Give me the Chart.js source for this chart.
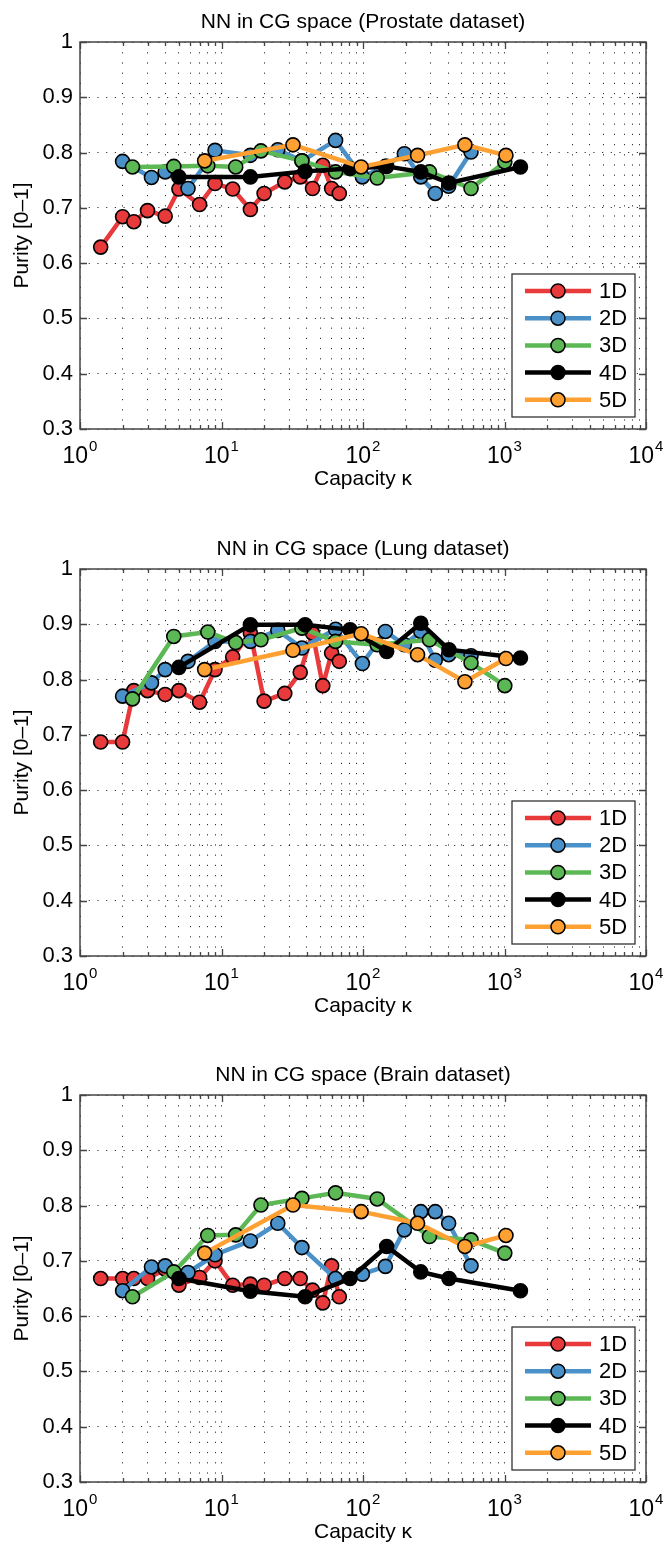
<!DOCTYPE html>
<html><head><meta charset="utf-8">
<script src="https://cdn.jsdelivr.net/npm/chart.js@4.4.1/dist/chart.umd.min.js"></script>
<style>
html,body{margin:0;padding:0;background:#fff;}
body{width:663px;height:1547px;position:relative;overflow:hidden;}
canvas{position:absolute;left:0;}
</style></head><body>
<canvas id="c1" width="663" height="494" style="top:0px;width:663px;height:494px"></canvas>
<canvas id="c2" width="663" height="494" style="top:527px;width:663px;height:494px"></canvas>
<canvas id="c3" width="663" height="494" style="top:1053px;width:663px;height:494px"></canvas>
<script>
// ---- data ----
const seriesLabels = ['1D', '2D', '3D', '4D', '5D'];
const seriesColors = ['#e8393b', '#4a90c9', '#5bb854', '#000000', '#ffa033'];
const panelTitles = ['NN in CG space (Prostate dataset)', 'NN in CG space (Lung dataset)', 'NN in CG space (Brain dataset)'];

const capacity1D = [1.4, 2, 2.4, 3, 4, 5, 7, 9, 12, 16, 20, 28, 36, 44, 52, 60, 68];
const capacity2D = [2, 3.2, 4, 5.8, 9, 16, 25, 37, 64, 99, 144, 196, 256, 324, 403, 580];
const capacity3D = [2.35, 4.6, 8, 12.6, 19, 37, 64, 126, 295, 580, 1005];
const capacity4D = [5, 16, 39, 81, 147, 256, 405, 1296];
const capacity5D = [7.6, 32, 97, 243, 525, 1024];

const prostate1D = [0.629, 0.684, 0.675, 0.695, 0.685, 0.734, 0.706, 0.744, 0.734, 0.697, 0.726, 0.747, 0.756, 0.735, 0.777, 0.735, 0.726];
const prostate2D = [0.784, 0.755, 0.765, 0.735, 0.804, 0.795, 0.805, 0.785, 0.822, 0.756, 0.775, 0.798, 0.756, 0.726, 0.739, 0.801];
const prostate3D = [0.774, 0.775, 0.776, 0.774, 0.803, 0.785, 0.765, 0.754, 0.765, 0.735, 0.783];
const prostate4D = [0.756, 0.756, 0.766, 0.771, 0.775, 0.765, 0.745, 0.774];
const prostate5D = [0.785, 0.814, 0.774, 0.795, 0.814, 0.795];

const lung1D = [0.687, 0.687, 0.780, 0.780, 0.773, 0.780, 0.759, 0.818, 0.841, 0.884, 0.761, 0.775, 0.813, 0.884, 0.789, 0.848, 0.833];
const lung2D = [0.770, 0.794, 0.818, 0.833, 0.869, 0.869, 0.889, 0.857, 0.891, 0.829, 0.887, 0.863, 0.887, 0.835, 0.845, 0.843];
const lung3D = [0.765, 0.878, 0.886, 0.867, 0.872, 0.893, 0.869, 0.863, 0.872, 0.830, 0.789];
const lung4D = [0.822, 0.899, 0.899, 0.890, 0.851, 0.902, 0.854, 0.839];
const lung5D = [0.818, 0.853, 0.883, 0.845, 0.796, 0.838];

const brain1D = [0.668, 0.668, 0.668, 0.668, 0.685, 0.656, 0.670, 0.700, 0.656, 0.658, 0.656, 0.668, 0.668, 0.647, 0.624, 0.691, 0.635];
const brain2D = [0.646, 0.689, 0.691, 0.679, 0.711, 0.736, 0.768, 0.724, 0.668, 0.676, 0.690, 0.756, 0.789, 0.789, 0.768, 0.691];
const brain3D = [0.635, 0.680, 0.746, 0.747, 0.801, 0.813, 0.823, 0.812, 0.744, 0.738, 0.714];
const brain4D = [0.668, 0.645, 0.635, 0.668, 0.726, 0.680, 0.668, 0.646];
const brain5D = [0.714, 0.801, 0.789, 0.768, 0.726, 0.746];

const xMajorValues = [1, 10, 100, 1000, 10000];
const xTickBase = '10';
const xTickExponents = ['0', '1', '2', '3', '4'];
const yTickValues = [0.3, 0.4, 0.5, 0.6, 0.7, 0.8, 0.9, 1];
const yTickLabels = ['0.3', '0.4', '0.5', '0.6', '0.7', '0.8', '0.9', '1'];

// ---- rendering ----
const FONT = '"Liberation Sans", Arial, Helvetica, sans-serif';
const capacities = [capacity1D, capacity2D, capacity3D, capacity4D, capacity5D];
const xTickValues = [];
for (let p = 0; p < 4; p++) for (let m = 1; m <= 9; m++) xTickValues.push(m * Math.pow(10, p));
xTickValues.push(10000);

const framePlugin = {
  id: 'frame',
  afterDatasetsDraw(chart) {
    const {ctx, chartArea: a, scales} = chart;
    ctx.save();
    ctx.strokeStyle = '#444';
    ctx.lineWidth = 1.3;
    ctx.beginPath();
    xTickValues.forEach(v => {
      const x = Math.round(scales.x.getPixelForValue(v)) + 0.5;
      const len = xMajorValues.includes(v) ? 7 : 4;
      ctx.moveTo(x, a.bottom); ctx.lineTo(x, a.bottom - len);
      ctx.moveTo(x, a.top); ctx.lineTo(x, a.top + len);
    });
    yTickValues.forEach(v => {
      const y = Math.round(scales.y.getPixelForValue(v)) + 0.5;
      ctx.moveTo(a.left, y); ctx.lineTo(a.left + 7, y);
      ctx.moveTo(a.right, y); ctx.lineTo(a.right - 7, y);
    });
    ctx.stroke();
    ctx.lineWidth = 1.5;
    ctx.strokeRect(a.left, a.top, a.right - a.left, a.bottom - a.top);
    // x tick labels: base with superscript exponent
    ctx.fillStyle = '#000';
    ctx.textBaseline = 'middle';
    ctx.textAlign = 'left';
    xMajorValues.forEach((v, i) => {
      const x = scales.x.getPixelForValue(v);
      ctx.font = '23px ' + FONT;
      const w1 = ctx.measureText(xTickBase).width;
      ctx.font = '15px ' + FONT;
      const w2 = ctx.measureText(xTickExponents[i]).width;
      const x0 = x - (w1 + w2 + 1) / 2;
      ctx.font = '23px ' + FONT;
      ctx.fillText(xTickBase, x0, a.bottom + 28);
      ctx.font = '15px ' + FONT;
      ctx.fillText(xTickExponents[i], x0 + w1 + 1, a.bottom + 18);
    });
    ctx.restore();
  }
};

const legendPlugin = {
  id: 'boxLegend',
  afterDraw(chart) {
    const {ctx, chartArea: a} = chart;
    const w = 123, h = 143;
    const x0 = a.right - 11 - w, y0 = a.bottom - 12 - h;
    ctx.save();
    ctx.fillStyle = '#fff';
    ctx.fillRect(x0, y0, w, h);
    ctx.strokeStyle = '#333';
    ctx.lineWidth = 1.3;
    ctx.strokeRect(x0, y0, w, h);
    chart.data.datasets.forEach((ds, i) => {
      const cy = y0 + 17 + i * 27.2;
      ctx.strokeStyle = ds.borderColor;
      ctx.lineWidth = 4.5;
      ctx.beginPath(); ctx.moveTo(x0 + 13, cy); ctx.lineTo(x0 + 79, cy); ctx.stroke();
      ctx.beginPath(); ctx.arc(x0 + 46, cy, 7, 0, Math.PI * 2);
      ctx.fillStyle = ds.pointBackgroundColor; ctx.fill();
      ctx.lineWidth = 1.5; ctx.strokeStyle = '#000'; ctx.stroke();
      ctx.fillStyle = '#000';
      ctx.font = '22px ' + FONT;
      ctx.textBaseline = 'middle';
      ctx.textAlign = 'left';
      ctx.fillText(ds.label, x0 + 87, cy + 1);
    });
    ctx.restore();
  }
};

function makeChart(id, title, values) {
  const datasets = values.map((vals, i) => ({
    label: seriesLabels[i],
    data: capacities[i].map((k, j) => ({x: k, y: vals[j]})),
    borderColor: seriesColors[i],
    backgroundColor: seriesColors[i],
    pointBackgroundColor: seriesColors[i],
    pointBorderColor: '#000',
    pointBorderWidth: 1.6,
    pointRadius: 7,
    borderWidth: 4.5,
    tension: 0,
    fill: false,
    order: 5 - i
  }));
  return new Chart(document.getElementById(id), {
    type: 'line',
    data: {datasets},
    options: {
      responsive: false,
      animation: false,
      devicePixelRatio: 1,
      layout: {padding: {left: 0, right: 17, top: 0, bottom: 0}},
      plugins: {
        legend: {display: false},
        tooltip: {enabled: false},
        title: {
          display: true, text: title, fullSize: false, color: '#000',
          font: {family: FONT, size: 21, weight: 'normal', lineHeight: 1.2},
          padding: {top: 10, bottom: 6.8}
        }
      },
      scales: {
        x: {
          type: 'logarithmic', min: 1, max: 10000, position: 'bottom',
          afterBuildTicks: s => { s.ticks = xTickValues.map(v => ({value: v})); },
          afterFit: s => { s.height = 65; },
          ticks: {display: false, autoSkip: false, maxRotation: 0, minRotation: 0},
          grid: {color: 'rgba(0,0,0,0.8)', lineWidth: 1, drawTicks: false},
          border: {display: false, dash: [1.2, 9]},
          title: {display: true, text: 'Capacity \u03ba', color: '#000', font: {family: FONT, size: 21, lineHeight: 1.2}, padding: {top: 0, bottom: 2}}
        },
        y: {
          min: 0.3, max: 1,
          afterBuildTicks: s => { s.ticks = yTickValues.map(v => ({value: v})); },
          afterFit: s => { s.width = 80; },
          ticks: {
            padding: 7, color: '#000', font: {family: FONT, size: 22},
            callback: v => { const i = yTickValues.findIndex(t => Math.abs(t - v) < 1e-9); return i >= 0 ? yTickLabels[i] : ''; }
          },
          grid: {color: 'rgba(0,0,0,0.8)', lineWidth: 1, drawTicks: false},
          border: {display: false, dash: [1.2, 7.5]},
          title: {display: true, text: 'Purity [0\u20131]', color: '#000', font: {family: FONT, size: 21, lineHeight: 1.2}, padding: {top: 10, bottom: 0}}
        }
      }
    },
    plugins: [framePlugin, legendPlugin]
  });
}

makeChart('c1', panelTitles[0], [prostate1D, prostate2D, prostate3D, prostate4D, prostate5D]);
makeChart('c2', panelTitles[1], [lung1D, lung2D, lung3D, lung4D, lung5D]);
makeChart('c3', panelTitles[2], [brain1D, brain2D, brain3D, brain4D, brain5D]);
</script>
</body></html>
